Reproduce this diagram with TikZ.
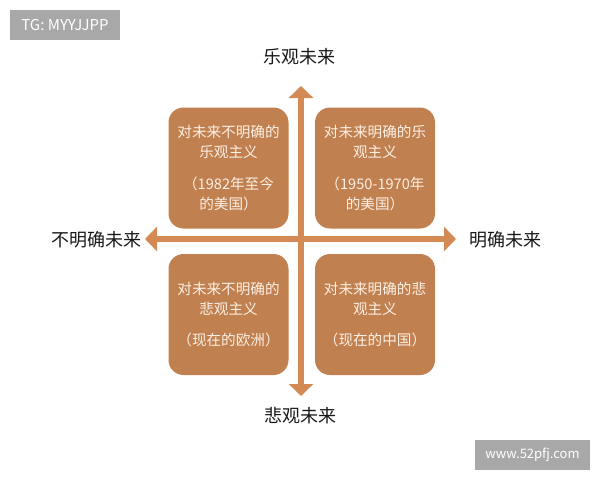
\documentclass[tikz,border=0pt]{standalone}
\usepackage{fontspec}
\setmainfont{Noto Sans CJK SC}
\usetikzlibrary{arrows.meta}
\definecolor{boxbrown}{RGB}{192,128,80}
\definecolor{axisbrown}{RGB}{212,138,84}
\definecolor{boxtext}{RGB}{252,240,228}
\definecolor{markgray}{RGB}{168,168,168}
\tikzset{
  quad/.style={fill=boxbrown,rounded corners=15pt,minimum width=120pt,minimum height=121pt,align=center,text=boxtext,font=\fontsize{14.6}{20}\selectfont,inner sep=0pt},
  axis/.style={axisbrown,line width=6pt,-{Triangle[width=24pt,length=12pt]}},
  pole/.style={font=\fontsize{18}{20}\selectfont,text=black!90},
  wmark/.style={fill=markgray,text=white,inner sep=0pt}
}
\begin{document}
\begin{tikzpicture}[x=1pt,y=-1pt]
\useasboundingbox (0,0) rectangle (600,480);
\node[wmark,minimum width=110pt,minimum height=30pt,font=\fontsize{15}{16}\selectfont](tg) at (65,25){TG: MYYJJPP};
\node[wmark,minimum width=115pt,minimum height=30pt,font=\fontsize{13}{14}\selectfont](www) at (532.5,455){www.52pfj.com};
\coordinate (o) at (301,239);
\coordinate (top) at (301,86);
\coordinate (bot) at (301,396);
\coordinate (lft) at (145,239);
\coordinate (rgt) at (456,239);
\draw[axis](o)--(top);
\draw[axis](o)--(bot);
\draw[axis](o)--(lft);
\draw[axis](o)--(rgt);
\node[quad](tl) at (228.5,168){对未来不明确的\\乐观主义\\[12pt]（1982年至今\\的美国）};
\node[quad](tr) at (375,168){对未来明确的乐\\观主义\\[12pt]（1950-1970年\\的美国）};
\node[quad](bl) at (228.5,314.5){对未来不明确的\\悲观主义\\[11pt]（现在的欧洲）};
\node[quad](br) at (375,314.5){对未来明确的悲\\观主义\\[11pt]（现在的中国）};
\node[pole](up) at (299,57){乐观未来};
\node[pole](down) at (300,416){悲观未来};
\node[pole](left) at (96,240){不明确未来};
\node[pole](right) at (505,240){明确未来};
\end{tikzpicture}
\end{document}
